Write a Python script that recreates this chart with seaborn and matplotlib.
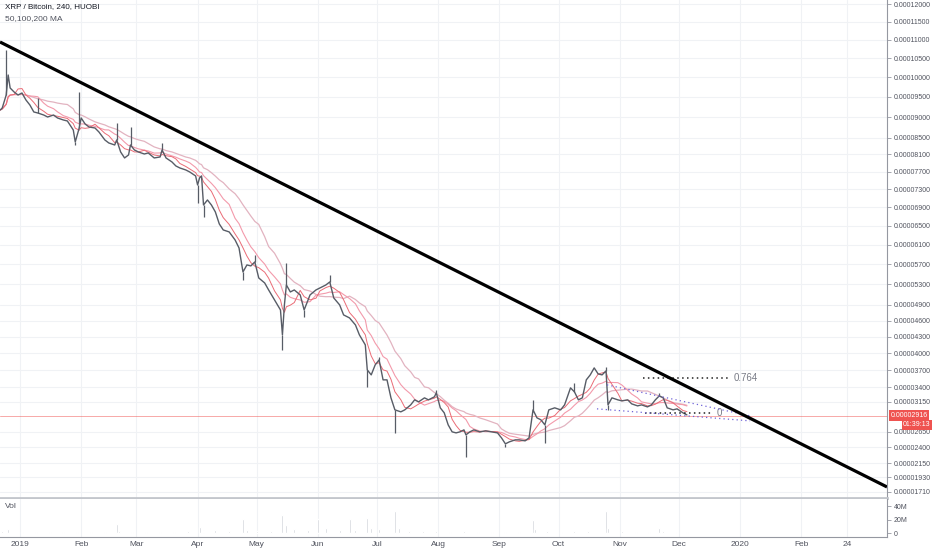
import numpy as np
import pandas as pd
import matplotlib
matplotlib.use("Agg")
import matplotlib.pyplot as plt
import matplotlib.transforms as mtrans
import seaborn as sns

sns.set_style("white")
plt.rcParams["font.family"] = ["Liberation Sans", "DejaVu Sans"]

# ---------------- data (prices in satoshi = 1e-8 BTC) ----------------
dates = [
    "2018-12-22", "2018-12-23", "2018-12-25", "2018-12-26", "2018-12-27", "2018-12-29", "2018-12-31",
    "2019-01-02", "2019-01-04", "2019-01-06", "2019-01-08", "2019-01-10", "2019-01-13", "2019-01-15",
    "2019-01-18", "2019-01-20", "2019-01-23", "2019-01-25", "2019-01-28", "2019-01-29", "2019-01-31",
    "2019-02-01", "2019-02-03", "2019-02-05", "2019-02-08", "2019-02-10", "2019-02-13", "2019-02-15",
    "2019-02-18", "2019-02-19", "2019-02-21", "2019-02-23", "2019-02-25", "2019-02-26", "2019-02-28",
    "2019-03-02", "2019-03-05", "2019-03-07", "2019-03-10", "2019-03-13", "2019-03-14", "2019-03-16",
    "2019-03-19", "2019-03-21", "2019-03-23", "2019-03-26", "2019-03-28", "2019-03-31", "2019-04-01",
    "2019-04-02", "2019-04-03", "2019-04-04", "2019-04-06", "2019-04-08", "2019-04-10", "2019-04-12",
    "2019-04-14", "2019-04-17", "2019-04-20", "2019-04-22", "2019-04-24", "2019-04-26", "2019-04-28",
    "2019-04-30", "2019-05-02", "2019-05-05", "2019-05-07", "2019-05-10", "2019-05-13", "2019-05-14",
    "2019-05-15", "2019-05-16", "2019-05-18", "2019-05-20", "2019-05-23", "2019-05-25", "2019-05-28",
    "2019-05-31", "2019-06-02", "2019-06-05", "2019-06-07", "2019-06-09", "2019-06-12", "2019-06-14",
    "2019-06-17", "2019-06-20", "2019-06-22", "2019-06-25", "2019-06-26", "2019-06-28", "2019-06-30",
    "2019-07-02", "2019-07-04", "2019-07-06", "2019-07-08", "2019-07-10", "2019-07-13", "2019-07-15",
    "2019-07-18", "2019-07-20", "2019-07-22", "2019-07-25", "2019-07-27", "2019-07-30", "2019-07-31",
    "2019-08-02", "2019-08-04", "2019-08-06", "2019-08-08", "2019-08-10", "2019-08-12", "2019-08-14",
    "2019-08-15", "2019-08-17", "2019-08-19", "2019-08-22", "2019-08-25", "2019-08-28", "2019-08-31",
    "2019-09-02", "2019-09-04", "2019-09-06", "2019-09-09", "2019-09-11", "2019-09-14", "2019-09-16",
    "2019-09-18", "2019-09-20", "2019-09-22", "2019-09-24", "2019-09-26", "2019-09-29", "2019-10-02",
    "2019-10-04", "2019-10-07", "2019-10-09", "2019-10-11", "2019-10-13", "2019-10-15", "2019-10-17",
    "2019-10-19", "2019-10-21", "2019-10-23", "2019-10-25", "2019-10-26", "2019-10-28", "2019-10-31",
    "2019-11-02", "2019-11-05", "2019-11-07", "2019-11-10", "2019-11-12", "2019-11-15", "2019-11-17",
    "2019-11-19", "2019-11-21", "2019-11-23", "2019-11-25", "2019-11-28", "2019-11-30", "2019-12-03",
    "2019-12-05",
]
close_sats = [
    9175, 9225, 9550, 10064, 9729, 9627, 9550,
    9601, 9425, 9299, 9125, 9100, 9050, 9001,
    9050, 8977, 8927, 8903, 8684, 8396, 8732,
    8977, 8829, 8756, 8732, 8635, 8444, 8372,
    8324, 8444, 8159, 8019, 8089, 8324, 8206,
    8159, 8112, 8136, 8019, 8042, 8206, 8019,
    7926, 7833, 7787, 7741, 7695, 7604, 7400,
    7559, 7604, 6955, 7065, 6955, 6803, 6544,
    6416, 6374, 6205, 6038, 5548, 5690, 5670,
    5751, 5428, 5329, 5191, 4997, 4804, 4335,
    4900, 5289, 5152, 5191, 5094, 4804, 5094,
    5191, 5230, 5289, 5349, 5036, 4900, 4709,
    4652, 4520, 4335, 4151, 3702, 3614, 3790,
    3879, 3527, 3527, 3217, 3014, 2981, 3014,
    3098, 3183, 3149, 3217, 3183, 3234, 3302,
    3048, 2964, 2765, 2651, 2634, 2651, 2683,
    2602, 2651, 2683, 2651, 2667, 2651, 2634,
    2554, 2457, 2489, 2521, 2521, 2505, 2554,
    3014, 2881, 2848, 2765, 3014, 3048, 3014,
    3098, 3388, 3319, 3183, 3217, 3527, 3614,
    3737, 3631, 3614, 3684, 3098, 3217, 3183,
    3166, 3183, 3115, 3081, 3098, 3064, 3098,
    3183, 3251, 3217, 3048, 3014, 3031, 2964,
    2930,
]
# wick extremes (spikes)
spike_dates = ["2018-12-25", "2019-01-10", "2019-01-29", "2019-01-31", "2019-02-19", "2019-02-26",
               "2019-03-14", "2019-04-01", "2019-04-04", "2019-04-24", "2019-04-30", "2019-05-14",
               "2019-05-16", "2019-05-25", "2019-06-07", "2019-06-26", "2019-07-02", "2019-07-10",
               "2019-07-31", "2019-08-15", "2019-09-04", "2019-09-18", "2019-09-24", "2019-10-09",
               "2019-10-25", "2019-10-26", "2019-11-21"]
spike_sats = [10725, 9475, 8324, 9627, 8853, 8756,
              8372, 6999, 6695, 5388, 5894, 4060,
              5730, 4671, 5488, 3405, 3932, 2634,
              3353, 2251, 2409, 3183, 2473, 3474,
              3755, 3014, 3302]

# volume (millions)
vol_dates = ["2018-12-23", "2018-12-26", "2019-01-02", "2019-01-09", "2019-01-16", "2019-01-23", "2019-01-30",
             "2019-02-06", "2019-02-13", "2019-02-19", "2019-02-20", "2019-02-27", "2019-03-06", "2019-03-13",
             "2019-03-20", "2019-03-27", "2019-04-02", "2019-04-04", "2019-04-10", "2019-04-17", "2019-04-24",
             "2019-04-26", "2019-05-01", "2019-05-08", "2019-05-14", "2019-05-16", "2019-05-20", "2019-05-27",
             "2019-06-01", "2019-06-05", "2019-06-12", "2019-06-17", "2019-06-20", "2019-06-26", "2019-06-28",
             "2019-07-02", "2019-07-10", "2019-07-12", "2019-07-17", "2019-07-24", "2019-07-31", "2019-08-07",
             "2019-08-14", "2019-08-21", "2019-08-28", "2019-09-04", "2019-09-11", "2019-09-18", "2019-09-19",
             "2019-09-25", "2019-10-02", "2019-10-09", "2019-10-16", "2019-10-25", "2019-10-26", "2019-11-02",
             "2019-11-09", "2019-11-16", "2019-11-21", "2019-11-23", "2019-11-30", "2019-12-05"]
vol_m = [3, 6, 2, 1.5, 1.5, 1.5, 2,
         1.5, 1.5, 14, 3, 2, 1.5, 2,
         2, 3, 9, 5, 4, 3, 21,
         5, 3, 3, 26, 12, 6, 5,
         21, 7, 4, 21, 5, 22, 8,
         6, 32, 7, 3, 3, 3, 2,
         3, 1.5, 1.5, 2, 1.5, 20, 6,
         3, 2, 3, 3, 32, 8, 3,
         2, 2, 8, 3, 2, 1]

last_price_sats = 2916
trend_dates = ["2018-12-21 20:38", "2020-03-15 09:36"]
trend_sats = [10942, 1785]
fib_dates = ["2019-11-12 17:00", "2019-12-26 19:00"]
fib_764_sats = 3561
fib_0_dates = ["2019-11-13 19:00", "2019-12-18 00:00"]
fib_0_sats = 2964
chan_up_dates = ["2019-10-25 12:00", "2020-01-06 00:00"]
chan_up_sats = [3440, 2914]
chan_lo_dates = ["2019-10-20 10:00", "2020-01-06 00:00"]
chan_lo_sats = [3031, 2831]

ytick_vals = [12000, 11500, 11000, 10500, 10000, 9500, 9000, 8500, 8100, 7700, 7300, 6900, 6500,
              6100, 5700, 5300, 4900, 4600, 4300, 4000, 3700, 3400, 3150, 2650, 2400, 2150, 1930, 1710]
xtick_dates = ["2019-01-01", "2019-02-01", "2019-03-01", "2019-04-01", "2019-05-01", "2019-06-01",
               "2019-07-01", "2019-08-01", "2019-09-01", "2019-10-01", "2019-11-01", "2019-12-01",
               "2020-01-01", "2020-02-01", "2020-02-24"]
xtick_labels = ["2019", "Feb", "Mar", "Apr", "May", "Jun", "Jul", "Aug", "Sep", "Oct", "Nov", "Dec",
                "2020", "Feb", "24"]

SAT = 1e-8
df = pd.DataFrame({"date": pd.to_datetime(dates), "close": np.array(close_sats) * SAT})
s = df.set_index("date")["close"]
df["ma50"] = s.rolling("8D").mean().values
df["ma100"] = s.rolling("17D").mean().values
df["ma200"] = s.rolling("33D").mean().values

# ---------------- figure ----------------
W, H = 932, 550
fig = plt.figure(figsize=(W / 100, H / 100), dpi=100)
ax = fig.add_axes([0, 1 - 498 / H, 887 / W, 498 / H])
axv = fig.add_axes([0, 1 - 537 / H, 887 / W, 38 / H], sharex=ax)

C = 9.748e-5
ax.set_yscale("function", functions=(lambda v: np.log(np.clip(v + C, 1e-12, None)),
                                     lambda u: np.exp(u) - C))
ax.set_ylim(1619 * SAT, 12115 * SAT)
ax.set_xlim(pd.Timestamp("2018-12-21 20:38"), pd.Timestamp("2020-03-15 09:36"))

GRID = "#f0f2f5"
TXT = "#50535e"
TFS = 5.0
ax.set_yticks([v * SAT for v in ytick_vals])
ax.set_yticklabels([f"{v * SAT:.8f}" for v in ytick_vals])
ax.set_xticks(pd.to_datetime(xtick_dates))
ax.grid(True, color=GRID, lw=0.8)
axv.grid(True, axis="x", color=GRID, lw=0.8)
ax.set_axisbelow(True)

# last price line
ax.axhline(last_price_sats * SAT, color="#ef5350", lw=0.7, alpha=0.5, zorder=1)

# moving averages
sns.lineplot(data=df, x="date", y="ma200", ax=ax, color="#e2b3c0", lw=0.9, zorder=2)
sns.lineplot(data=df, x="date", y="ma100", ax=ax, color="#f39aab", lw=0.8, zorder=2)
sns.lineplot(data=df, x="date", y="ma50", ax=ax, color="#ea6b76", lw=0.7, zorder=2)

# price
sns.lineplot(data=df, x="date", y="close", ax=ax, color="#575c66", lw=1.0, zorder=3)
sp_d = pd.to_datetime(spike_dates)
base = s.reindex(sp_d, method="nearest").values
ax.vlines(sp_d, base, np.array(spike_sats) * SAT, color="#575c66", lw=0.9, zorder=3)

# trend line
ax.plot(pd.to_datetime(trend_dates), np.array(trend_sats) * SAT, color="black", lw=2.3,
        solid_capstyle="butt", zorder=5)

# fib & channel
ax.plot(pd.to_datetime(fib_dates), [fib_764_sats * SAT] * 2, color="#222222", lw=1.1, ls=(0, (1, 2.2)), zorder=4)
ax.plot(pd.to_datetime(fib_0_dates), [fib_0_sats * SAT] * 2, color="#222222", lw=1.1, ls=(0, (1, 2.2)), zorder=4)
ax.plot(pd.to_datetime(chan_up_dates), np.array(chan_up_sats) * SAT, color="#6f63d8", lw=0.9, ls=(0, (1, 2.5)), zorder=4)
ax.plot(pd.to_datetime(chan_lo_dates), np.array(chan_lo_sats) * SAT, color="#6f63d8", lw=0.9, ls=(0, (1, 2.5)), zorder=4)
ax.text(pd.Timestamp("2019-12-28 21:00"), fib_764_sats * SAT, "0.764", color="#787b86",
        fontsize=7, va="center", ha="left")
ax.text(pd.Timestamp("2019-12-20 07:00"), fib_0_sats * SAT, "0", color="#787b86",
        fontsize=7, va="center", ha="left")

# axes styling
ax.set_xlabel("")
ax.set_ylabel("")
ax.yaxis.tick_right()
ax.tick_params(axis="y", direction="out", length=3, width=0.6, color="#9598a1",
               labelsize=TFS, labelcolor=TXT, pad=2)
ax.tick_params(axis="x", length=0, labelbottom=False)
for side in ["top", "left"]:
    ax.spines[side].set_visible(False)
ax.spines["right"].set_color("#9598a1")
ax.spines["right"].set_linewidth(0.8)
ax.spines["bottom"].set_color("#c3c6cc")
ax.spines["bottom"].set_linewidth(2.0)

# price box
tr = mtrans.blended_transform_factory(ax.transAxes, ax.transData)
ax.text(1.004, last_price_sats * SAT, f"{last_price_sats * SAT:.8f}", transform=tr, ha="left", va="center",
        color="white", fontsize=TFS, clip_on=False, zorder=10,
        bbox=dict(boxstyle="square,pad=0.25", fc="#ef5350", ec="none"))
ax.annotate("01:39:13", xy=(1.0, last_price_sats * SAT), xycoords=tr, xytext=(31.5, -6.6),
            textcoords="offset points", ha="right", va="center", color="white", fontsize=TFS,
            annotation_clip=False, zorder=10,
            bbox=dict(boxstyle="square,pad=0.2", fc="#ef5350", ec="none"))

# header
fig.text(5 / W, 1 - 7 / H, "XRP / Bitcoin, 240, HUOBI", fontsize=5.8, color="#131722",
         va="center", ha="left")
fig.text(5 / W, 1 - 19 / H, "50,100,200 MA", fontsize=6.0, color=TXT, va="center", ha="left")

# volume
axv.bar(pd.to_datetime(vol_dates), vol_m, width=1.0, color="#cdd0d6", zorder=2)
axv.set_ylim(-5.9, 50.4)
axv.set_yticks([0, 20, 40])
axv.set_yticklabels(["0", "20M", "40M"])
axv.yaxis.tick_right()
axv.tick_params(axis="y", direction="out", length=3, width=0.6, color="#9598a1",
                labelsize=TFS, labelcolor=TXT, pad=2)
axv.set_xticks(pd.to_datetime(xtick_dates))
axv.set_xticklabels(xtick_labels)
axv.tick_params(axis="x", length=0, labelsize=6, labelcolor=TXT, pad=3)
for side in ["top", "left"]:
    axv.spines[side].set_visible(False)
axv.spines["right"].set_color("#9598a1")
axv.spines["right"].set_linewidth(0.8)
axv.spines["bottom"].set_color("#9598a1")
axv.spines["bottom"].set_linewidth(0.8)
axv.text(5 / 887, 1 - 8 / 38, "Vol", transform=axv.transAxes, fontsize=6.0, color=TXT,
         va="center", ha="left")

fig.savefig("out.png", dpi=100)
